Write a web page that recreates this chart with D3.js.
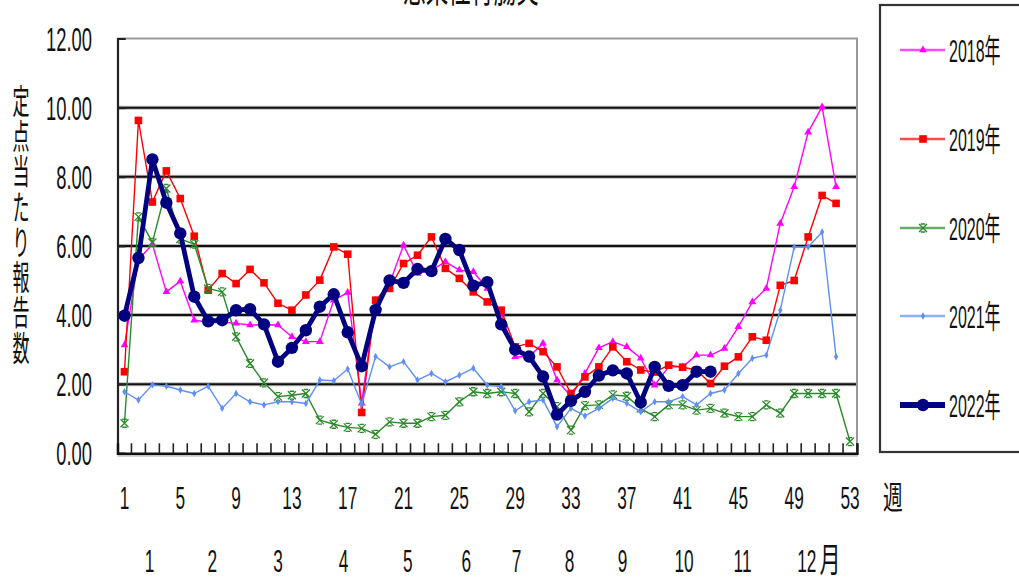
<!DOCTYPE html>
<html>
<head>
<meta charset="utf-8">
<script src="https://cdn.jsdelivr.net/npm/d3@7"></script>
<style>
  html, body { margin: 0; padding: 0; background: #fff; }
  svg { display: block; }
  text { font-family: "Liberation Sans", "Noto Sans CJK JP", sans-serif; fill: #111; }
</style>
</head>
<body>
<svg id="chart" width="1019" height="579"></svg>
<script>
// Weekly reports per sentinel site, by year
const weeks = [1,2,3,4,5,6,7,8,9,10,11,12,13,14,15,16,17,18,19,20,21,22,23,24,25,26,27,28,29,30,31,32,33,34,35,36,37,38,39,40,41,42,43,44,45,46,47,48,49,50,51,52,53];

const y2018 = [3.13,5.6,6.05,4.67,4.98,3.85,3.8,3.8,3.76,3.71,3.72,3.71,3.37,3.23,3.23,4.43,4.65,1.45,4.43,4.91,6.02,5.2,5.3,5.54,5.3,5.25,4.77,4.05,2.79,2.8,3.18,2.12,1.64,2.31,3.05,3.23,3.08,2.75,1.97,2.5,2.5,2.84,2.84,3.03,3.66,4.38,4.77,6.65,7.71,9.29,10.02,7.71];
const y2019 = [2.36,9.63,7.27,8.17,7.37,6.28,4.72,5.2,4.91,5.32,4.93,4.34,4.14,4.58,5.01,5.97,5.76,1.18,4.43,4.77,5.49,5.73,6.26,5.35,5.06,4.67,4.38,4.14,3.08,3.18,2.94,2.5,1.73,2.21,2.5,3.08,2.65,2.41,2.35,2.55,2.49,2.41,2.02,2.52,2.79,3.37,3.27,4.86,5.0,6.26,7.46,7.23];
const y2020 = [0.87,6.84,6.1,7.66,6.2,6.05,4.77,4.67,3.37,2.6,2.04,1.64,1.68,1.73,0.96,0.84,0.75,0.72,0.55,0.91,0.87,0.87,1.06,1.1,1.49,1.78,1.73,1.78,1.73,1.2,1.73,1.35,0.67,1.38,1.4,1.69,1.65,1.3,1.06,1.4,1.4,1.25,1.3,1.16,1.06,1.06,1.4,1.16,1.73,1.73,1.73,1.73,0.34];
const y2021 = [1.78,1.54,1.98,1.94,1.83,1.73,1.94,1.3,1.73,1.49,1.4,1.49,1.49,1.44,2.12,2.1,2.44,1.42,2.8,2.5,2.65,2.12,2.31,2.07,2.26,2.46,1.97,1.93,1.23,1.49,1.54,0.77,1.3,1.08,1.3,1.59,1.45,1.2,1.49,1.49,1.64,1.4,1.73,1.83,2.31,2.75,2.84,4.14,5.97,5.97,6.4,2.79];
const y2022 = [3.98,5.65,8.5,7.25,6.36,4.53,3.82,3.85,4.14,4.17,3.73,2.65,3.05,3.56,4.24,4.6,3.5,2.52,4.15,5.0,4.93,5.33,5.27,6.2,5.88,4.85,4.95,3.73,3.0,2.8,2.22,1.12,1.52,1.78,2.25,2.4,2.31,1.47,2.5,1.95,1.97,2.36,2.36];

const yearNames = ["2018年","2019年","2020年","2021年","2022年"];
const yTicks = [0,2,4,6,8,10,12];
const weekTickLabels = [1,5,9,13,17,21,25,29,33,37,41,45,49,53];
const monthLabels = ["1","2","3","4","5","6","7","8","9","10","11","12"];
// week position (centre of the label) for each month label
const monthPos = [2.8,7.3,12.0,16.7,21.3,25.5,29.1,32.9,36.7,41.1,45.3,49.9];

const series = [
  { name: yearNames[0], values: y2018, color: "#ff00ff", width: 1.4, marker: "triangle" },
  { name: yearNames[1], values: y2019, color: "#ff0000", width: 1.4, marker: "square" },
  { name: yearNames[2], values: y2020, color: "#2a8a2a", width: 1.4, marker: "star" },
  { name: yearNames[3], values: y2021, color: "#5f8ff5", width: 1.4, marker: "dot" },
  { name: yearNames[4], values: y2022, color: "#000080", width: 4.8, marker: "circle" }
];

const svg = d3.select("#chart");
const plot = { left: 117.5, right: 857, top: 38.5, bottom: 453.3 };
const SX = 0.54; // narrow lettering

const x = d3.scaleBand().domain(weeks).range([plot.left, plot.right]).paddingInner(0).paddingOuter(0);
const xc = w => x(w) + x.bandwidth() / 2;
const y = d3.scaleLinear().domain([0, 12]).range([plot.bottom, plot.top]);

function label(parent, px, py, str, size, anchor, sx) {
  return parent.append("text")
    .attr("transform", `translate(${px},${py}) scale(${sx == null ? SX : sx},1)`)
    .attr("text-anchor", anchor || "middle")
    .attr("font-size", size)
    .text(str);
}

// chart title, set high so it runs off the top edge
label(svg, 471, 2, "感染性胃腸炎", 42, "middle");

// gridlines
const grid = svg.append("g");
yTicks.filter(v => v > 0 && v < 12).forEach(v => {
  grid.append("line").attr("x1", plot.left).attr("x2", plot.right).attr("y1", y(v)).attr("y2", y(v))
    .attr("stroke", "#b8b8b8").attr("stroke-width", 4);
  grid.append("line").attr("x1", plot.left).attr("x2", plot.right).attr("y1", y(v)).attr("y2", y(v))
    .attr("stroke", "#111").attr("stroke-width", 2);
});
// plot border (top/right)
grid.append("path")
  .attr("d", `M${plot.left},${y(12)}H${plot.right}V${plot.bottom}`)
  .attr("fill", "none").attr("stroke", "#999").attr("stroke-width", 2);

// y axis
const yAxis = d3.axisLeft(y).tickValues(yTicks).tickSize(-8).tickFormat("");
const yg = svg.append("g").attr("transform", `translate(${plot.left},0)`).call(yAxis);
yg.select(".domain").attr("stroke", "#222").attr("stroke-width", 2.2);
yg.selectAll(".tick line").attr("stroke", "#222").attr("stroke-width", 2);
yTicks.forEach(v => label(svg, 92, y(v) + 12, d3.format(".2f")(v), 34, "end"));

// x axis with inward ticks on category boundaries
const xAxis = d3.axisBottom(x).tickSize(-10).tickFormat("");
const xg = svg.append("g").attr("transform", `translate(0,${plot.bottom})`);
xg.append("line").attr("x1", plot.left).attr("x2", plot.right + 1).attr("y1", 2).attr("y2", 2)
  .attr("stroke", "#c4c4c4").attr("stroke-width", 3);
xg.call(xAxis);
xg.select(".domain").attr("stroke", "#111").attr("stroke-width", 2.4);
xg.selectAll(".tick").attr("transform", d => `translate(${x(d) + x.bandwidth()},0)`);
xg.selectAll(".tick line").attr("stroke", "#222").attr("stroke-width", 1.6);

weekTickLabels.forEach(w => label(svg, xc(w), 509, String(w), 32, "middle"));
label(svg, 893, 509, "週", 32, "middle", 0.62);
monthLabels.forEach((m, i) => label(svg, xc(1) + (monthPos[i] - 1) * x.bandwidth(), 572, m, 32, "middle"));
label(svg, 830, 572, "月", 34, "middle", 0.62);

// y axis title, vertical writing
const yTitle = "定点当たり報告数";
Array.from(yTitle).forEach((ch, i) => {
  svg.append("text")
    .attr("transform", `translate(21,${102.6 + i * 35.25}) scale(0.5,1)`)
    .attr("text-anchor", "middle").attr("dominant-baseline", "central")
    .attr("font-size", 34).text(ch);
});

// markers
function drawMarker(g, type, cx, cy, color) {
  if (type === "triangle") {
    g.append("path").attr("d", d3.symbol(d3.symbolTriangle, 26)()).attr("transform", `translate(${cx},${cy})`).attr("fill", color);
  } else if (type === "square") {
    g.append("rect").attr("x", cx - 3.8).attr("y", cy - 3.8).attr("width", 7.6).attr("height", 7.6).attr("fill", color);
  } else if (type === "star") {
    const s = 4, b = 2.2;
    g.append("path")
      .attr("d", `M${cx - s},${cy - s}L${cx + s},${cy + s}M${cx + s},${cy - s}L${cx - s},${cy + s}M${cx - b},${cy - s}H${cx + b}M${cx - b},${cy + s}H${cx + b}`)
      .attr("stroke", color).attr("stroke-width", 1.3).attr("fill", "none");
  } else if (type === "dot") {
    g.append("path").attr("d", d3.symbol(d3.symbolDiamond, 16)()).attr("transform", `translate(${cx},${cy})`).attr("fill", color);
  } else if (type === "circle") {
    g.append("circle").attr("cx", cx).attr("cy", cy).attr("r", 6.2).attr("fill", color);
  }
}

const line = d3.line().x((d, i) => xc(weeks[i])).y(d => y(d));
const lines = svg.append("g");
series.forEach(s => {
  const g = lines.append("g");
  g.append("path").attr("d", line(s.values)).attr("fill", "none")
    .attr("stroke", s.color).attr("stroke-width", s.width).attr("stroke-linejoin", "round");
  s.values.forEach((v, i) => drawMarker(g, s.marker, xc(weeks[i]), y(v), s.color));
});

// legend
const lg = svg.append("g");
lg.append("rect").attr("x", 880).attr("y", 5).attr("width", 160).attr("height", 447)
  .attr("fill", "#fff").attr("stroke", "#333").attr("stroke-width", 2.2);
const legendY = [50, 139, 228, 316, 405];
series.forEach((s, i) => {
  const ly = legendY[i];
  lg.append("line").attr("x1", 900).attr("x2", 945).attr("y1", ly).attr("y2", ly)
    .attr("stroke", s.color).attr("stroke-width", s.width > 3 ? 6 : 2.6).attr("opacity", s.width > 3 ? 1 : 0.7);
  drawMarker(lg, s.marker, 923, ly, s.color);
  label(lg, 949, ly + 12, s.name, 32, "start", 0.5);
});
</script>
</body>
</html>
